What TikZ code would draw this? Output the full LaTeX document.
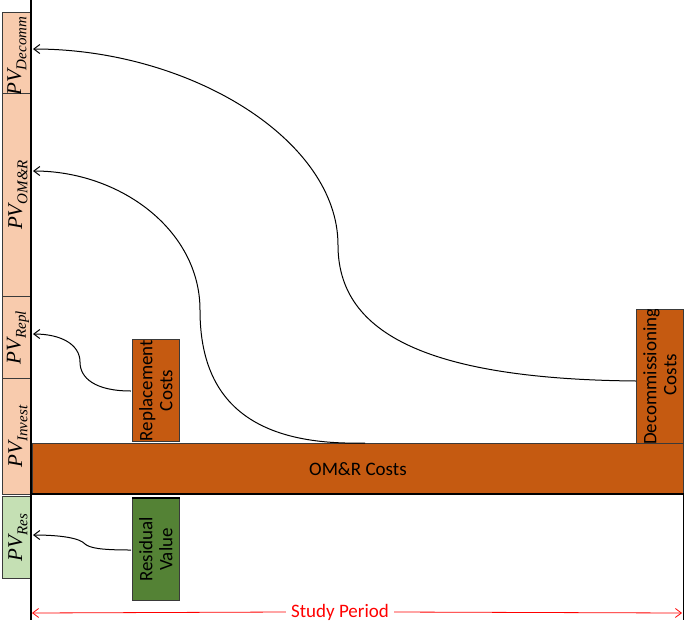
\documentclass[tikz,border=0pt]{standalone}
\usepackage{fontspec}
\setmainfont{Carlito}
\newfontfamily\pvfont{Liberation Serif}
\usetikzlibrary{arrows.meta}
\definecolor{peach}{HTML}{F8CBAD}
\definecolor{rust}{HTML}{C55A11}
\definecolor{lgreen}{HTML}{C5E0B4}
\definecolor{dgreen}{HTML}{548235}
\definecolor{edge}{HTML}{3A3A3A}
\newcommand{\pvtext}[1]{{\pvfont\itshape PV\raisebox{-0.25em}{\fontsize{15}{15}\selectfont #1}}}
\begin{document}
\begin{tikzpicture}[x=1pt,y=-1pt,
  pvbox/.style={draw=edge,line width=0.9pt,fill=peach,minimum width=29pt,inner sep=0pt,anchor=north west},
  costbox/.style={draw=edge,line width=0.9pt,fill=rust,minimum width=47pt,inner sep=0pt,anchor=north west},
  pvlabel/.style={rotate=90,inner sep=0pt,font=\fontsize{21}{21}\selectfont},
  boxlabel/.style={rotate=90,inner sep=0pt,font=\fontsize{19}{20}\selectfont,align=center},
  link/.style={line width=1pt,-{Straight Barb[length=6pt,width=9pt]}}]
\useasboundingbox (0,0) rectangle (685,624);
% left column boxes
\node[pvbox,minimum height=81pt] (decomm) at (2,12) {};
\node[pvbox,minimum height=203pt] (omr) at (2,93) {};
\node[pvbox,minimum height=82pt] (repl) at (2,296) {};
\node[pvbox,minimum height=116pt] (invest) at (2,378) {};
\node[pvbox,fill=lgreen,minimum height=82pt] (res) at (2,496) {};
\begin{scope}
\clip (2,12) rectangle (31,93);
\node[pvlabel,anchor=west] at ([yshift=-2pt]decomm.south) {\pvtext{Decomm}};
\end{scope}
\node[pvlabel] at ([xshift=1pt]omr.center) {\pvtext{OM\&R}};
\node[pvlabel] at ([xshift=1pt]repl.center) {\pvtext{Repl}};
\node[pvlabel] at ([xshift=1pt]invest.center) {\pvtext{Invest}};
\node[pvlabel] at ([xshift=1pt]res.center) {\pvtext{Res}};
% OM&R bar
\node[costbox,minimum width=651pt,minimum height=51pt,font=\fontsize{19}{19}\selectfont] (bar) at (32,443) {OM\&R Costs};
% cost boxes
\node[costbox,minimum height=102pt] (rc) at (132,339) {};
\node[boxlabel] at (rc.center) {Replacement\\Costs};
\node[costbox,minimum height=134pt] (dc) at (636,309) {};
\begin{scope}
\clip (620,309) rectangle (683,443);
\node[boxlabel,align=left,anchor=west] at ([yshift=-1pt]dc.south) {Decommissioning\\\hspace*{2.6em}Costs};
\end{scope}
\node[costbox,fill=dgreen,minimum height=102pt] (rv) at (132,498) {};
\node[boxlabel] at (rv.center) {Residual\\Value};
\draw[line width=2.2pt] (rv.north west) -- (rv.north east);
% axes
\coordinate (axtop) at (31,0);
\coordinate (axbot) at (31,620);
\draw[line width=1.3pt] (axtop) -- (axbot);
\coordinate (rtop) at (683,494);
\coordinate (rbot) at (683,620);
\draw[line width=0.9pt] (rtop) -- (rbot);
\draw[line width=2.2pt] (31,494) -- (684,494);
% study period
\coordinate (sp1) at (32,613);
\coordinate (sp2) at (682,613);
\node[text=red,fill=white,inner xsep=5pt,font=\fontsize{19}{19}\selectfont] (sp) at (340,612) {Study Period};
\draw[red,line width=0.8pt,-{Straight Barb[length=6pt,width=9pt]}] (sp.west) -- (sp1);
\draw[red,line width=0.8pt,-{Straight Barb[length=6pt,width=9pt]}] (sp.east) -- (sp2);
% connectors
\coordinate (dcs) at (636,381);
\coordinate (dce) at (33,49);
\draw[link] (dcs) .. controls (420,379) and (338,330) .. (338,245) .. controls (338,140) and (190,49) .. (dce);
\coordinate (oms) at (365,443);
\coordinate (ome) at (33,171);
\draw[link] (oms) -- (345,443) .. controls (235,440) and (200,385) .. (200,310) .. controls (200,230) and (120,171) .. (ome);
\coordinate (rcs) at (131,391);
\coordinate (rce) at (33,334);
\draw[link] (rcs) .. controls (95,391) and (80,378) .. (80,362) .. controls (80,345) and (62,334) .. (rce);
\coordinate (rvs) at (131,550);
\coordinate (rve) at (33,535);
\draw[link] (rvs) .. controls (100,550) and (90,548) .. (85,544) .. controls (80,538) and (60,535) .. (rve);
\end{tikzpicture}
\end{document}
